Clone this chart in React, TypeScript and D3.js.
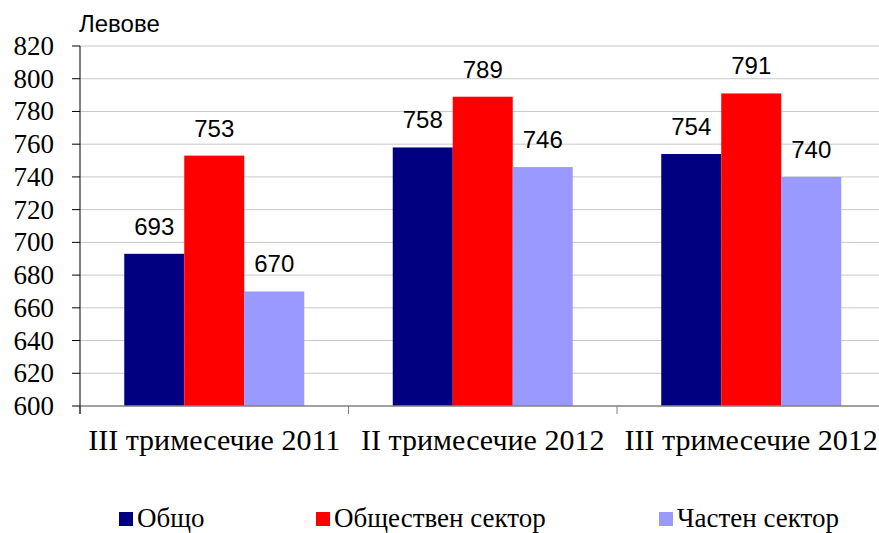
import React from 'react';
import * as d3 from 'd3';

const categories = ['III тримесечие 2011', 'II тримесечие 2012', 'III тримесечие 2012'];
const seriesNames = ['Общо', 'Обществен сектор', 'Частен сектор'];
const seriesColors = ['#000080', '#ff0000', '#9999ff'];
const total = [693, 758, 754];
const publicSector = [753, 789, 791];
const privateSector = [670, 746, 740];
const yTicks = [600, 620, 640, 660, 680, 700, 720, 740, 760, 780, 800, 820];
const yTitle = 'Левове';

const values = [total, publicSector, privateSector];

const App = () => {
  const width = 879;
  const height = 533;
  const left = 80;
  const right = 885.5;
  const top = 46;
  const bottom = 406;

  const x = d3.scaleBand<string>().domain(categories).range([left, right]).paddingInner(0).paddingOuter(0);
  const y = d3.scaleLinear().domain([600, 820]).range([bottom, top]);
  const inner = d3.scaleBand<string>().domain(seriesNames).range([0, 180]);
  const groupPad = (x.bandwidth() - 180) / 2;

  const boundaries = [left, ...categories.map(c => (x(c) as number) + x.bandwidth())];
  const legendX = [119, 316, 659];

  return (
    <svg width={width} height={height} style={{ position: 'absolute', left: 0, top: 0, background: '#fff' }}>
      {yTicks.map(t => (
        <g key={t}>
          {t !== 600 && <line x1={left} x2={right} y1={y(t)} y2={y(t)} stroke="#c8c8c8" strokeWidth={1} />}
          <line x1={72} x2={left} y1={y(t)} y2={y(t)} stroke="#000" strokeWidth={1} />
          <text x={54} y={y(t) + 9} textAnchor="end" fontFamily="'Liberation Serif', 'Times New Roman', serif" fontSize={27}>{t}</text>
        </g>
      ))}
      {categories.map((c, ci) =>
        seriesNames.map((s, si) => {
          const v = values[si][ci];
          const bx = (x(c) as number) + groupPad + (inner(s) as number);
          return (
            <g key={c + s}>
              <rect x={bx} y={y(v)} width={inner.bandwidth()} height={bottom - y(v)} fill={seriesColors[si]} />
              <text x={bx + inner.bandwidth() / 2} y={y(v) - 19} textAnchor="middle" fontFamily="'Liberation Sans', Arial, sans-serif" fontSize={24}>{v}</text>
            </g>
          );
        })
      )}
      <line x1={left} x2={right} y1={bottom} y2={bottom} stroke="#808080" strokeWidth={1.5} />
      {boundaries.map((b, i) => (
        <line key={i} x1={b} x2={b} y1={bottom} y2={bottom + 8} stroke="#808080" strokeWidth={1} />
      ))}
      <line x1={left} x2={left} y1={top} y2={bottom + 8} stroke="#000" strokeWidth={1} />
      {categories.map(c => (
        <text key={c} x={(x(c) as number) + x.bandwidth() / 2} y={450} textAnchor="middle" fontFamily="'Liberation Serif', 'Times New Roman', serif" fontSize={30}>{c}</text>
      ))}
      <text x={79} y={32} fontFamily="'Liberation Sans', Arial, sans-serif" fontSize={24}>{yTitle}</text>
      {seriesNames.map((s, i) => (
        <g key={s}>
          <rect x={legendX[i]} y={512} width={14} height={14} fill={seriesColors[i]} />
          <text x={legendX[i] + 18} y={527} fontFamily="'Liberation Serif', 'Times New Roman', serif" fontSize={27}>{s}</text>
        </g>
      ))}
    </svg>
  );
};

export default App;
